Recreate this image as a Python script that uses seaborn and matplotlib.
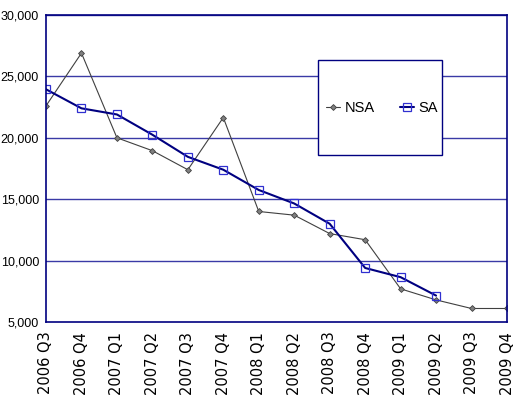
import matplotlib
matplotlib.use("Agg")
import matplotlib.pyplot as plt
import seaborn as sns
import pandas as pd
from matplotlib.ticker import FuncFormatter
from matplotlib.patches import Rectangle

quarters = ["2006 Q3", "2006 Q4", "2007 Q1", "2007 Q2", "2007 Q3", "2007 Q4",
            "2008 Q1", "2008 Q2", "2008 Q3", "2008 Q4", "2009 Q1", "2009 Q2",
            "2009 Q3", "2009 Q4"]
nsa = [22600, 26900, 20000, 18950, 17400, 21650, 14000, 13700, 12200, 11700,
       7700, 6800, 6100, 6100]
sa = [23950, 22400, 21900, 20250, 18450, 17400, 15750, 14650, 13000, 9400,
      8650, 7150]

sns.set_theme(style="white")
plt.rcParams["font.family"] = ["Liberation Sans", "DejaVu Sans"]
plt.rcParams["text.color"] = "black"

df_nsa = pd.DataFrame({"idx": range(len(nsa)), "value": nsa})
df_sa = pd.DataFrame({"idx": range(len(sa)), "value": sa})

W, H = 518, 398
fig = plt.figure(figsize=(W / 100, H / 100), dpi=100)
ax = fig.add_axes([46 / W, 1 - 322 / H, 461 / W, 307 / H])

navy = "#000080"
grid_c = "#3a3aa6"

for y in [10000, 15000, 20000, 25000, 30000]:
    ax.axhline(y, color=grid_c, lw=1.0, zorder=0)

sns.lineplot(data=df_nsa, x="idx", y="value", ax=ax, color="#404040", lw=0.8,
             marker="D", markersize=3, markerfacecolor="#808080",
             markeredgecolor="#404040", markeredgewidth=0.6, label="NSA")
sns.lineplot(data=df_sa, x="idx", y="value", ax=ax, color=navy, lw=1.5,
             marker="s", markersize=5.5, markerfacecolor="none",
             markeredgecolor="#3030d0", markeredgewidth=0.9, label="SA")

ax.set_xlim(0, len(quarters) - 1)
ax.set_ylim(5000, 30000)
ax.set_yticks([5000, 10000, 15000, 20000, 25000, 30000])
ax.yaxis.set_major_formatter(FuncFormatter(lambda v, p: f"{int(v):,}"))
ax.set_xticks(range(len(quarters)))
ax.set_xticklabels(quarters, rotation=90, family="DejaVu Sans")
ax.set_xlabel("")
ax.set_ylabel("")
ax.tick_params(axis="y", labelsize=9, colors="black", length=4,
               width=1, direction="out", pad=1)
ax.tick_params(axis="x", labelsize=10.5, colors="black", length=5,
               width=1, direction="out", pad=2)
ax.tick_params(axis="both", color=navy)

for side in ["left", "bottom", "right", "top"]:
    ax.spines[side].set_visible(True)
    ax.spines[side].set_color(navy)
    ax.spines[side].set_linewidth(1.2)

# legend box drawn as a white panel over the gridlines
box = Rectangle((318 / W, 1 - 155 / H), (442 - 318) / W, (155 - 60) / H,
                transform=fig.transFigure, facecolor="white", edgecolor=navy,
                linewidth=1.0, zorder=4)
fig.patches.append(box)

leg = ax.legend(loc="center", bbox_to_anchor=(382 / W, 1 - 108 / H),
                bbox_transform=fig.transFigure,
                ncol=2, frameon=False, fontsize=10.5,
                handlelength=1.0, handletextpad=0.3, columnspacing=1.7,
                borderpad=0, borderaxespad=0)
for t in leg.get_texts():
    t.set_color("black")
leg.set_zorder(5)
leg.remove()
fig.legends.append(leg)
leg.figure = fig

fig.savefig("out.png", dpi=100)
